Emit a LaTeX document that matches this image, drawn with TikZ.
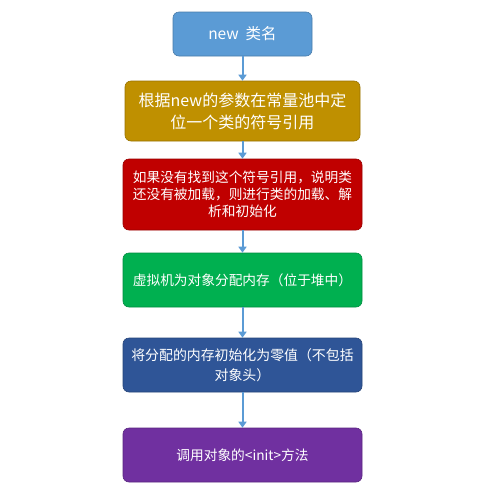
\documentclass[tikz,border=0pt]{standalone}
\usepackage{fontspec}
\setmainfont{Noto Sans CJK SC}
\usetikzlibrary{arrows.meta}
\definecolor{c1}{HTML}{5B9BD5}
\definecolor{c2}{HTML}{BF9000}
\definecolor{c3}{HTML}{C00000}
\definecolor{c4}{HTML}{00B050}
\definecolor{c5}{HTML}{2F5597}
\definecolor{c6}{HTML}{7030A0}
\definecolor{arr}{HTML}{5B9BD5}
\tikzset{
  box/.style={rounded corners=6pt, draw=#1!80!black, line width=0.6pt, fill=#1, text=white, align=center, inner sep=0pt, font=\fontsize{13.7}{17}\selectfont},
  conn/.style={draw=arr, line width=2pt, -{Triangle[length=6pt,width=8pt]}}
}
\begin{document}
\begin{tikzpicture}[x=1pt,y=-1pt]
\useasboundingbox[fill=white] (0,0) rectangle (499,491);
\node[box=c1, minimum width=139pt, minimum height=44pt, font=\fontsize{15.5}{19}\selectfont] (n1) at (242.5,34) {new\ \ 类名};
\node[box=c2, minimum width=235pt, minimum height=60pt, font=\fontsize{16}{22}\selectfont] (n2) at (242.5,111) {根据new的参数在常量池中定\\位一个类的符号引用};
\node[box=c3, minimum width=239pt, minimum height=71pt] (n3) at (242.5,194.5) {如果没有找到这个符号引用，说明类\\还没有被加载，则进行类的加载、解\\析和初始化};
\node[box=c4, minimum width=239pt, minimum height=54pt] (n4) at (242.5,280) {虚拟机为对象分配内存（位于堆中）};
\node[box=c5, minimum width=239pt, minimum height=54pt, font=\fontsize{13.9}{20}\selectfont] (n5) at (242.5,365) {将分配的内存初始化为零值（不包括\\对象头）};
\node[box=c6, minimum width=239pt, minimum height=54pt] (n6) at (242.5,455) {调用对象的<init>方法};
\draw[conn] (n1) -- (n2);
\draw[conn] (n2) -- (n3);
\draw[conn] (n3) -- (n4);
\draw[conn] (n4) -- (n5);
\draw[conn] (n5) -- (n6);
\end{tikzpicture}
\end{document}
